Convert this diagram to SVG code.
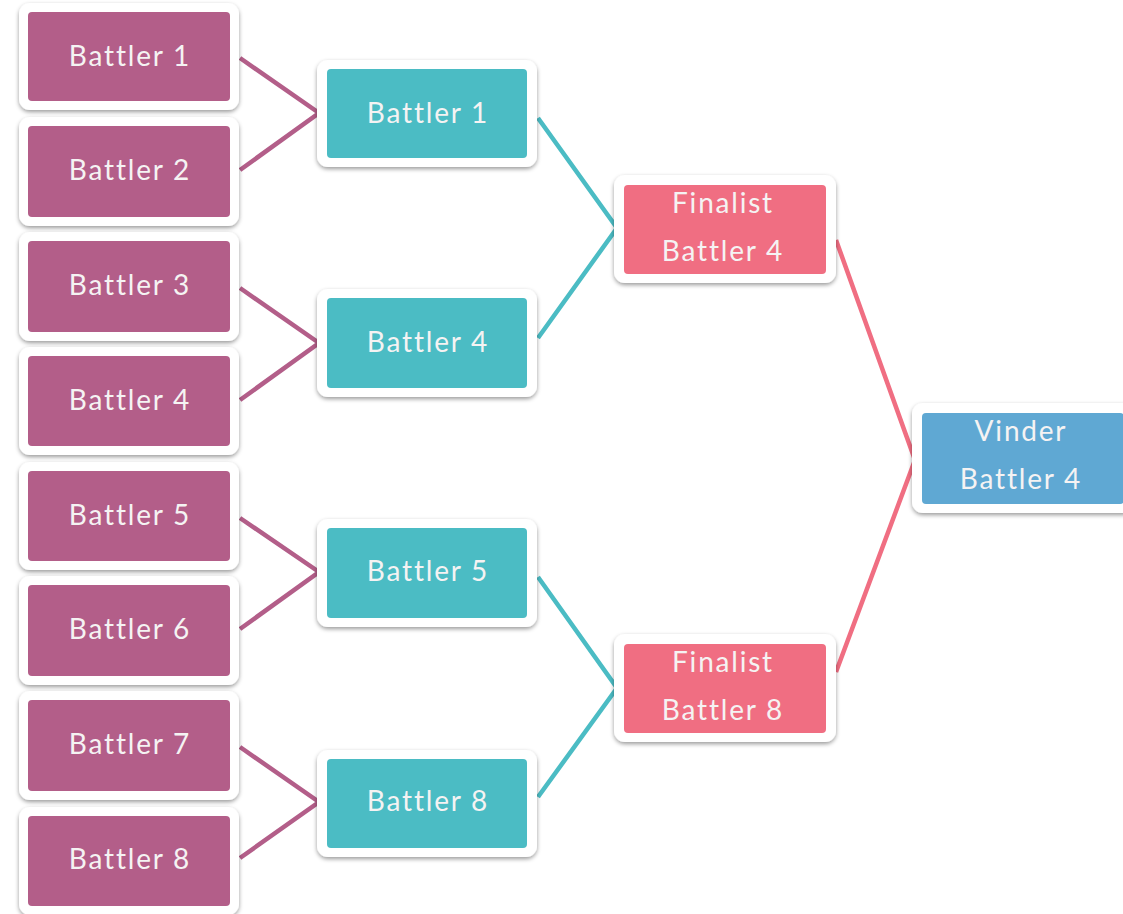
<svg xmlns="http://www.w3.org/2000/svg" width="1123" height="914" viewBox="0 0 1123 914">
<defs>
<filter id="sh" x="-10%" y="-10%" width="120%" height="130%">
<feDropShadow dx="0" dy="2" stdDeviation="2" flood-color="#000" flood-opacity="0.4"/>
</filter>
</defs>
<style>
.frame{fill:#fff;filter:url(#sh)}
.p{fill:#B35E89}.t{fill:#4BBCC4}.r{fill:#F06E82}.b{fill:#5FA8D3}
text{font-family:Lato,"Open Sans","Liberation Sans",sans-serif;font-size:28px;letter-spacing:1.8px;fill:#F5F3F3;text-anchor:middle}
.cp{stroke:#B35E89}.ct{stroke:#4BBCC4}.cr{stroke:#F06E82}
#connectors polyline{fill:none;stroke-width:4.5;stroke-linejoin:miter}
</style>
<rect width="1123" height="914" fill="#fff"/>
<g id="connectors">
<polyline class="cp" points="240,58 319,113 240,170"/>
<polyline class="cp" points="240,288 319,343 240,400"/>
<polyline class="cp" points="240,518 319,572 240,629"/>
<polyline class="cp" points="240,747 319,802 240,858"/>
<polyline class="ct" points="538,118 617,228 538,338"/>
<polyline class="ct" points="538,577 617,688 538,797"/>
<polyline class="cr" points="836,240 915,460 836,672"/>
</g>
<g id="n1"><rect class="frame" x="19" y="3" width="220" height="107" rx="11"/><rect class="p" x="28" y="12" width="202" height="89" rx="4"/><text x="130" y="66">Battler 1</text></g>
<g id="n2"><rect class="frame" x="19" y="117" width="220" height="109" rx="11"/><rect class="p" x="28" y="126" width="202" height="91" rx="4"/><text x="130" y="180">Battler 2</text></g>
<g id="n3"><rect class="frame" x="19" y="232" width="220" height="109" rx="11"/><rect class="p" x="28" y="241" width="202" height="91" rx="4"/><text x="130" y="295">Battler 3</text></g>
<g id="n4"><rect class="frame" x="19" y="347" width="220" height="108" rx="11"/><rect class="p" x="28" y="356" width="202" height="90" rx="4"/><text x="130" y="410">Battler 4</text></g>
<g id="n5"><rect class="frame" x="19" y="462" width="220" height="108" rx="11"/><rect class="p" x="28" y="471" width="202" height="90" rx="4"/><text x="130" y="525">Battler 5</text></g>
<g id="n6"><rect class="frame" x="19" y="576" width="220" height="109" rx="11"/><rect class="p" x="28" y="585" width="202" height="91" rx="4"/><text x="130" y="639">Battler 6</text></g>
<g id="n7"><rect class="frame" x="19" y="691" width="220" height="109" rx="11"/><rect class="p" x="28" y="700" width="202" height="91" rx="4"/><text x="130" y="754">Battler 7</text></g>
<g id="n8"><rect class="frame" x="19" y="807" width="220" height="108" rx="11"/><rect class="p" x="28" y="816" width="202" height="90" rx="4"/><text x="130" y="869">Battler 8</text></g>
<g id="q1"><rect class="frame" x="317" y="60" width="220" height="107" rx="11"/><rect class="t" x="327" y="69" width="200" height="89" rx="4"/><text x="428" y="123">Battler 1</text></g>
<g id="q4"><rect class="frame" x="317" y="289" width="220" height="108" rx="11"/><rect class="t" x="327" y="298" width="200" height="90" rx="4"/><text x="428" y="352">Battler 4</text></g>
<g id="q5"><rect class="frame" x="317" y="519" width="220" height="108" rx="11"/><rect class="t" x="327" y="528" width="200" height="90" rx="4"/><text x="428" y="581">Battler 5</text></g>
<g id="q8"><rect class="frame" x="317" y="750" width="220" height="107" rx="11"/><rect class="t" x="327" y="759" width="200" height="89" rx="4"/><text x="428" y="811">Battler 8</text></g>
<g id="f4"><rect class="frame" x="614" y="175" width="222" height="108" rx="11"/><rect class="r" x="624" y="185" width="202" height="89" rx="4"/><text x="723" y="213">Finalist</text><text x="723" y="261">Battler 4</text></g>
<g id="f8"><rect class="frame" x="614" y="634" width="222" height="108" rx="11"/><rect class="r" x="624" y="644" width="202" height="89" rx="4"/><text x="723" y="672">Finalist</text><text x="723" y="720">Battler 8</text></g>
<g id="w"><rect class="frame" x="912" y="403" width="222" height="110" rx="11"/><rect class="b" x="922" y="413" width="202" height="91" rx="4"/><text x="1021" y="441">Vinder</text><text x="1021" y="489">Battler 4</text></g>
</svg>
